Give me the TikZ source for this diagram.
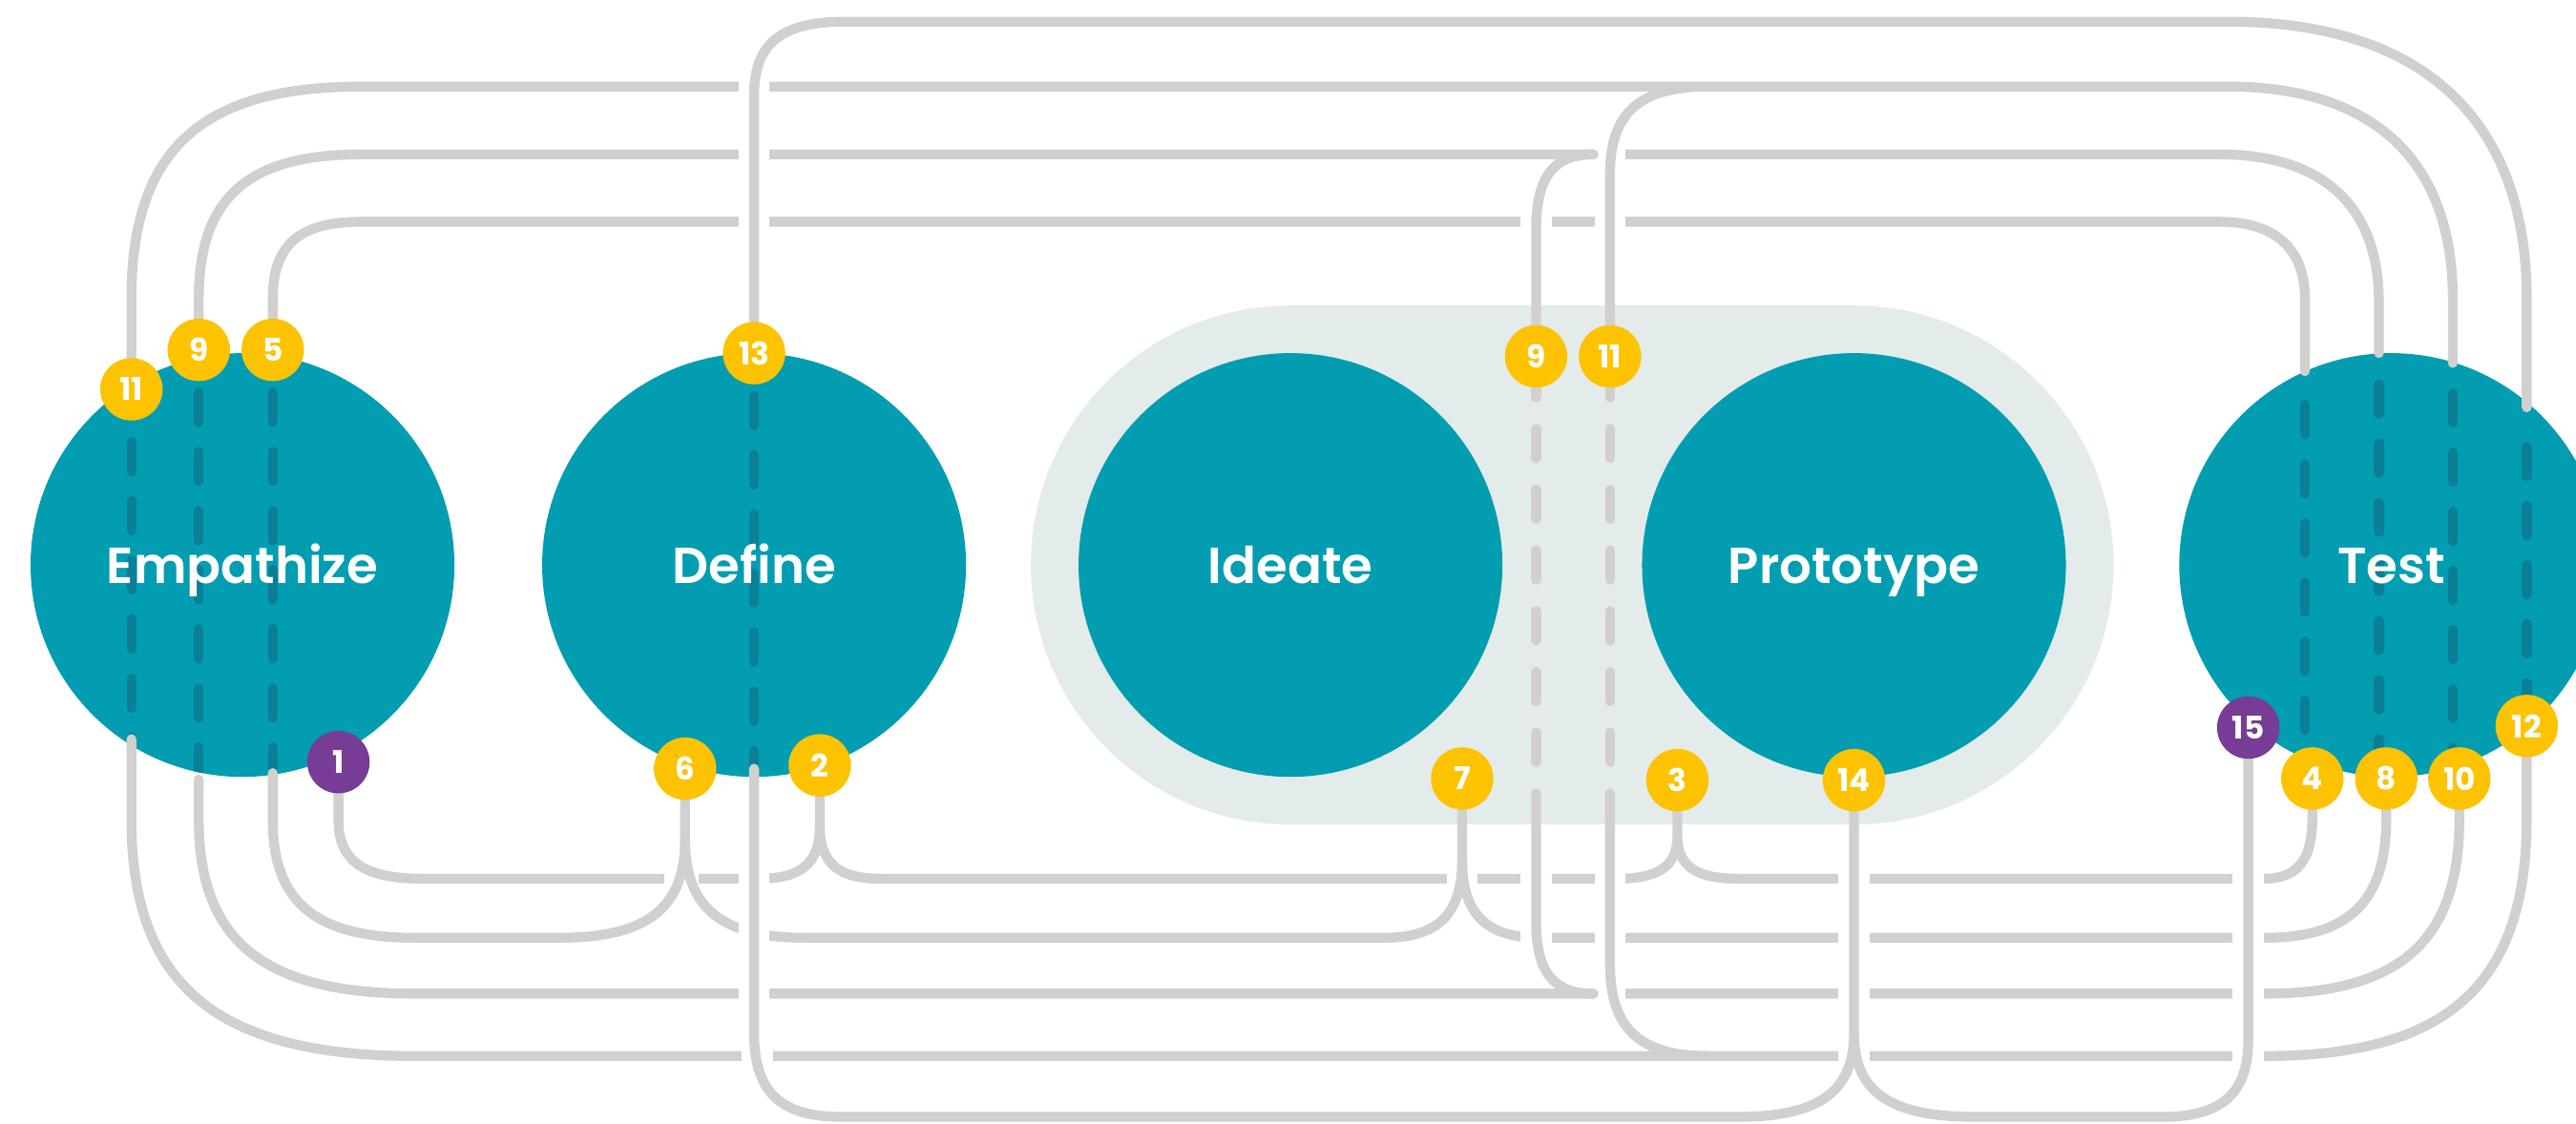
\documentclass[tikz,border=0pt]{standalone}
\usepackage{fontspec}
\setmainfont{Poppins}[BoldFont={Poppins SemiBold}]
\newfontfamily\digfont{Poppins}
\definecolor{tealc}{HTML}{029DB0}
\definecolor{dteal}{HTML}{0B7F96}
\definecolor{lgray}{HTML}{D1D0CE}
\definecolor{stad}{HTML}{E3ECEB}
\definecolor{yel}{HTML}{FDC300}
\definecolor{purp}{HTML}{763C96}
\pgfdeclarelayer{back}
\pgfdeclarelayer{lines}
\pgfsetlayers{back,lines,main}
\newcommand{\gapat}[4]{\fill[white] (#1-#3,#2-#4) rectangle (#1+#3,#2+#4);}
\begin{document}
\begin{tikzpicture}[x=1pt,y=-1pt,
  gl/.style={draw=lgray, line width=6pt, line cap=round, line join=round},
  dd/.style={draw=dteal, line width=6pt, line cap=round, dash pattern=on 18pt off 18pt},
  ld/.style={draw=lgray, line width=6pt, line cap=round, dash pattern=on 18pt off 19pt},
  stagec/.style={circle, fill=tealc, minimum size=258pt, inner sep=0pt},
  stage/.style={text=white, font=\bfseries\fontsize{30.8}{36}\selectfont, anchor=base, inner sep=0pt},
  yb/.style={circle, fill=yel, minimum size=38pt, inner sep=0pt, text=white, font=\digfont\bfseries\fontsize{19}{19}\selectfont},
  pb/.style={yb, fill=purp}]
\useasboundingbox (0,0) rectangle (1568,683.8);

\begin{pgfonlayer}{back}
  \fill[white] (0,0) rectangle (1568,683.8);
  \fill[stad] (785.5,344) circle[radius=158];
  \fill[stad] (1128.5,344) circle[radius=158];
  \fill[stad] (785.5,186) rectangle (1128.5,502);
  \node[stagec] (emp) at (147.6,344) {};
  \node[stagec] (def) at (459,344) {};
  \node[stagec] (ide) at (785.5,344) {};
  \node[stagec] (pro) at (1128.5,344) {};
  \node[stagec] (tst) at (1455.5,344) {};
  \begin{scope}
    \clip (147.6,344) circle[radius=129];
    \draw[dd] (80,269) -- (80,480);
    \draw[dd] (121,239) -- (121,480);
    \draw[dd] (166,239) -- (166,480);
  \end{scope}
  \begin{scope}
    \clip (459,344) circle[radius=129];
    \draw[dd] (459,241) -- (459,480);
  \end{scope}
  \begin{scope}
    \clip (1455.5,344) circle[radius=129];
    \draw[dd] (1403,246.6) -- (1403,480);
    \draw[dd] (1448,234) -- (1448,480);
    \draw[dd] (1493,239.5) -- (1493,480);
    \draw[dd] (1538,272) -- (1538,480);
  \end{scope}
  \draw[ld] (935,224) -- (935,464);
  \draw[ld] (980,224) -- (980,464);
\end{pgfonlayer}

% badges
\node[yb] (b11a) at (80,237) {11};
\node[yb] (b9a) at (121,213) {9};
\node[yb] (b5) at (166,213) {5};
\node[pb] (b1) at (206,464) {1};
\node[yb] (b13) at (459,215) {13};
\node[yb] (b6) at (417,468) {6};
\node[yb] (b2) at (499,466) {2};
\node[yb] (b7) at (890,474) {7};
\node[yb] (b9b) at (935,217) {9};
\node[yb] (b11b) at (980,217) {11};
\node[yb] (b3) at (1021,475) {3};
\node[yb] (b14) at (1128.5,475) {14};
\node[pb] (b15) at (1368.5,443) {15};
\node[yb] (b4) at (1407.5,474) {4};
\node[yb] (b8) at (1452.5,474) {8};
\node[yb] (b10) at (1497,474) {10};
\node[yb] (b12) at (1538,442) {12};

% labels
\node[stage] (lemp) at (147.6,355) {Empathize};
\node[stage] (ldef) at (459,355) {Define};
\node[stage] (lide) at (785.5,355) {Ideate};
\node[stage] (lpro) at (1128.5,355) {Prototype};
\node[stage] (ltst) at (1455.5,355) {Test};

\coordinate (j2) at (499,503);
\coordinate (j3) at (1021,509);
\coordinate (j6) at (417,511);
\coordinate (j7) at (890,523);
\coordinate (j14) at (1128.5,629);

\begin{pgfonlayer}{lines}
  % ---- under layer ----
  \draw[gl] (b11a) -- (80,182) .. controls (80,91.5) and (122,52.7) .. (220,52.7) -- (1356,52.7)
     .. controls (1445,52.7) and (1493,98) .. (1493,182) -- (1493,221);
  \draw[gl] (b9a) -- (121,182) .. controls (121,120.4) and (150.7,94) .. (220,94) -- (1351,94)
     .. controls (1414,94) and (1448,125.5) .. (1448,184) -- (1448,215);
  \draw[gl] (b5) -- (166,182) .. controls (166,149.1) and (182.2,135) .. (220,135) -- (1351,135)
     .. controls (1384.8,135) and (1403,151.4) .. (1403,182) -- (1403,226);
  \draw[gl] (b1) -- (206,499) .. controls (206,524.2) and (221.3,535) .. (257,535) -- (462,535)
     .. controls (487.9,535) and (499,525.4) .. (j2) -- (b2);
  \draw[gl] (j2) .. controls (499,525.4) and (510.1,535) .. (536,535) -- (984,535)
     .. controls (1009.9,535) and (1021,527.2) .. (j3) -- (b3);
  \draw[gl] (j3) .. controls (1021,527.2) and (1032.1,535) .. (1058,535) -- (1378,535)
     .. controls (1398.3,535) and (1407.5,523.9) .. (1407.5,498) -- (b4);
  \draw[gl] (121,474.6) -- (121,499) .. controls (121,573.2) and (160.6,605) .. (253,605) -- (1378,605)
     .. controls (1461.3,605) and (1497,572.9) .. (1497,498) -- (b10);
  \draw[gl] (80,450) -- (80,499) .. controls (80,599.8) and (131.9,643) .. (253,643) -- (1378,643)
     .. controls (1490,643) and (1538,599.5) .. (1538,498) -- (b12);
  % gaps under the B2 paths
  \gapat{414.7}{535}{10.5}{7}
  \gapat{890}{535}{9.5}{7}
  % ---- B2 paths ----
  \draw[gl] (166,470.7) -- (166,499) .. controls (166,549.4) and (192.1,571) .. (253,571) -- (340,571)
     .. controls (393.9,571) and (417,553) .. (j6) -- (b6);
  \draw[gl] (j6) .. controls (417,553) and (439.2,571) .. (491,571) -- (842,571)
     .. controls (875.6,571) and (890,556.6) .. (j7) -- (b7);
  \draw[gl] (j7) .. controls (890,556.6) and (904.4,571) .. (938,571) -- (1378,571)
     .. controls (1429.8,571) and (1452.5,549.1) .. (1452.5,498) -- (b8);
  % ---- gaps ----
  \gapat{459}{52.7}{9.5}{7}
  \gapat{459}{94}{9.5}{7}
  \gapat{980}{94}{9.5}{7}
  \gapat{459}{135}{9.5}{7}
  \gapat{935}{135}{9.5}{7}
  \gapat{980}{135}{9.5}{7}
  \gapat{459}{535}{9.5}{7}
  \gapat{935}{535}{9.5}{7}
  \gapat{980}{535}{9.5}{7}
  \gapat{1128.5}{535}{9.5}{7}
  \gapat{1368.5}{535}{9.5}{7}
  \gapat{459}{566}{9.5}{10}
  \gapat{935}{571}{9.5}{7}
  \gapat{980}{571}{9.5}{7}
  \gapat{1128.5}{571}{9.5}{7}
  \gapat{1368.5}{571}{9.5}{7}
  \gapat{459}{605}{9.5}{7}
  \gapat{980}{605}{9.5}{7}
  \gapat{1128.5}{605}{9.5}{7}
  \gapat{1368.5}{605}{9.5}{7}
  \gapat{461}{643}{9.5}{7}
  \gapat{1128.5}{643}{9.5}{7}
  \gapat{1368.5}{643}{9.5}{7}
  % ---- over layer ----
  \draw[gl] (b13) -- (459,58) .. controls (459,26.6) and (475.5,13.2) .. (514,13.2) -- (1356,13.2)
     .. controls (1474.3,13.2) and (1538,72.3) .. (1538,182) -- (1538,248);
  \draw[gl] (459,468) -- (459,629) .. controls (459,664.7) and (474.9,680) .. (512,680) -- (1058,680)
     .. controls (1107,680) and (1128.5,664.7) .. (j14) -- (b14);
  \draw[gl] (j14) .. controls (1128.5,664.7) and (1150.2,680) .. (1202,680) -- (1316,680)
     .. controls (1352.4,680) and (1368.5,665.9) .. (1368.5,633) -- (b15);
  \draw[gl] (970,94) .. controls (945.5,94) and (935,107.8) .. (935,140) -- (b9b);
  \draw[gl] (935,483) -- (935,561) .. controls (935,591.8) and (945.5,605) .. (970,605);
  \draw[gl] (1040,52.7) .. controls (998,52.7) and (980,68.7) .. (980,106) -- (b11b);
  \draw[gl] (980,483) -- (980,587) .. controls (980,626.2) and (998,643) .. (1040,643);
\end{pgfonlayer}
\end{tikzpicture}
\end{document}
